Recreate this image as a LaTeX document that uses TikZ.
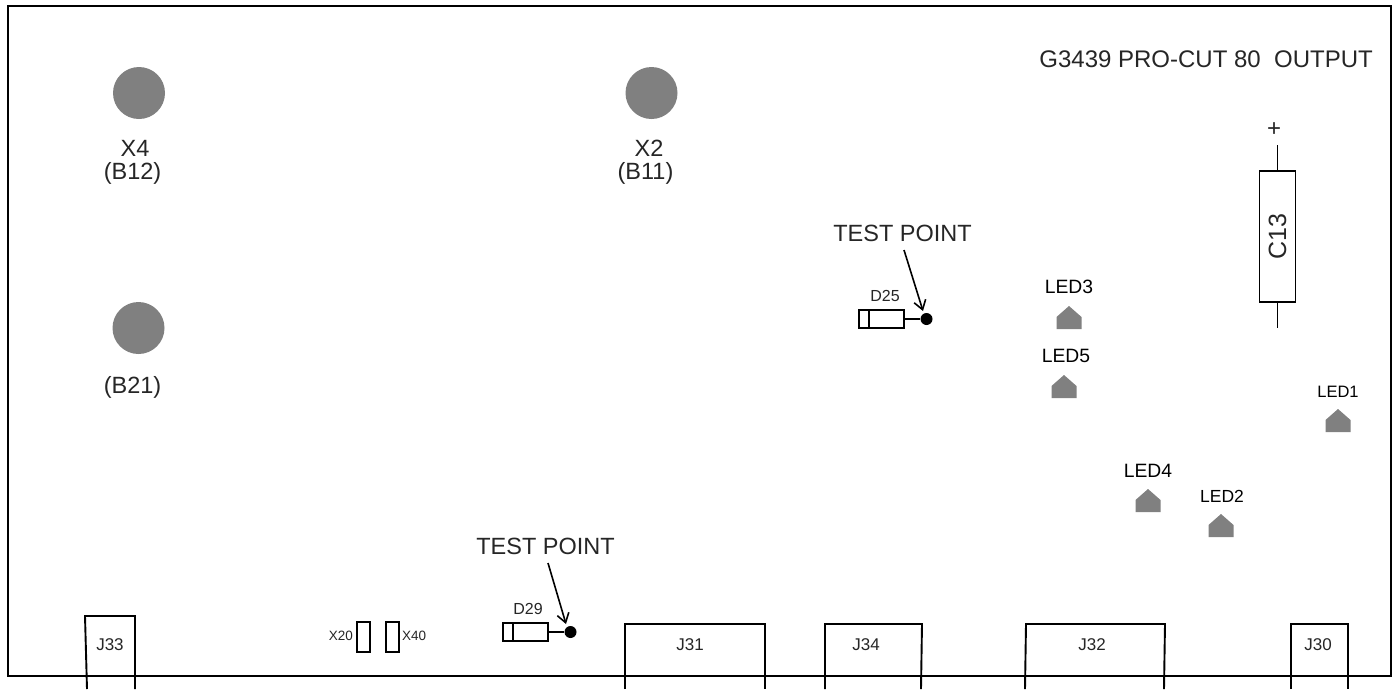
\documentclass[tikz,border=0pt]{standalone}
\usepackage{fontspec}
\setmainfont{Liberation Sans}
\usetikzlibrary{arrows.meta}
\newcommand{\txt}[1]{\fontsize{#1}{#1}\selectfont}
\tikzset{
  x=1pt,y=-1pt,
  line/.style={draw=black,line width=1.9pt},
  thin line/.style={draw=black,line width=1.6pt},
  lbl/.style={inner sep=0pt,text=black!85},
  big/.style={lbl,font=\txt{23.5}},
  small/.style={lbl,font=\txt{16}},
  ledlbl/.style={lbl,text=black,font=\txt{19.3}},
  tiny/.style={lbl,font=\txt{17}},
  tinier/.style={lbl,font=\txt{13.5}},
  hole/.style={circle,fill=black!50,draw=none,minimum size=52pt,inner sep=0pt},
  dot/.style={circle,fill=black,draw=none,minimum size=12pt,inner sep=0pt},
  led/.style={fill=black!50,draw=none},
  part/.style={draw=black,line width=1.7pt,inner sep=0pt},
  pin/.style={thin line,-{Straight Barb[length=9pt,width=12pt]}},
}
\newcommand{\ledshape}[2]{\fill[led] (#1-12.5,#2+23) -- (#1-12.5,#2+11) -- (#1,#2) -- (#1+12.5,#2+11) -- (#1+12.5,#2+23) -- cycle;}
\newcommand{\conn}[7]{% name, left bottom, left top, right top, right bottom, top, label centre
  \draw[line] (#2,689) -- (#3,#6) -- (#4,#6) -- (#5,689);
  \node[tiny] (#1) at (#7,645) {\MakeUppercase{#1}};}
\begin{document}
\begin{tikzpicture}
\useasboundingbox (0,0) rectangle (1395,689);
\fill[white] (0,0) rectangle (1395,689);
\draw[line,line width=2.1pt] (8,676) -- (8,6) -- (1391,6) -- (1391,676) -- cycle;
% title
\node[big,font=\txt{24},anchor=east] (title) at (1373,59.5) {G3439 PRO-CUT 80\ \ OUTPUT};
% holes
\node[hole] (h4) at (139,93) {};
\node[hole] (h2) at (651.5,93) {};
\node[hole] (h21) at (138.5,328) {};
\node[big] (x4) at (135,148) {X4};
\node[big] (b12) at (132.5,173) {(B12)};
\node[big] (x2) at (649,148) {X2};
\node[big] (b11) at (645.5,173) {(B11)};
\node[big] (b21) at (132.5,387) {(B21)};
% capacitor
\node[part,minimum width=36pt,minimum height=131pt] (c13) at (1277.5,236.5) {};
\node[big,font=\txt{25},rotate=90] (c13t) at (1277.5,236.5) {C13};
\node[big,font=\txt{24}] (plus) at (1274,130) {+};
\coordinate (c13a) at (1277.5,145);
\coordinate (c13b) at (1277.5,328);
\draw[thin line] (c13.north) -- (c13a);
\draw[thin line] (c13.south) -- (c13b);
% D25
\node[part,minimum width=45pt,minimum height=18pt] (d25) at (881.5,319) {};
\draw[thin line] (869,310) -- (869,328);
\node[dot] (tp1) at (926.5,319) {};
\draw[thin line] (d25.east) -- (tp1);
\node[small] (d25t) at (885,296) {D25};
\node[big] (tp1t) at (902.5,233) {TEST POINT};
\coordinate (tp1s) at (904,250);
\draw[pin] (tp1s) -- (923,311);
% D29
\node[part,minimum width=45pt,minimum height=18pt] (d29) at (525.5,632) {};
\draw[thin line] (513,623) -- (513,641);
\node[dot] (tp2) at (570.5,632) {};
\draw[thin line] (d29.east) -- (tp2);
\node[small] (d29t) at (528,609) {D29};
\node[big] (tp2t) at (545.5,546) {TEST POINT};
\coordinate (tp2s) at (548,563);
\draw[pin] (tp2s) -- (566,624);
% jumpers
\node[part,minimum width=13pt,minimum height=30pt] (x20b) at (363.5,637) {};
\node[part,minimum width=13pt,minimum height=30pt] (x40b) at (392.5,637) {};
\node[tinier,anchor=east] (x20) at (353,636) {X20};
\node[tinier,anchor=west] (x40) at (402,636) {X40};
% LEDs
\ledshape{1069}{306}
\node[ledlbl] (led3) at (1069,287) {LED3};
\ledshape{1064}{375}
\node[ledlbl] (led5) at (1066,356) {LED5};
\ledshape{1338}{409}
\node[ledlbl,font=\txt{16.5}] (led1) at (1338,392) {LED1};
\ledshape{1148}{489}
\node[ledlbl] (led4) at (1148,471) {LED4};
\ledshape{1221}{514}
\node[ledlbl,font=\txt{17.5}] (led2) at (1222,496) {LED2};
% connectors
\conn{j33}{87}{85}{135}{135}{616}{110}
\conn{j31}{625}{625}{765}{765}{624}{690}
\conn{j34}{825}{825}{922}{921}{624}{866}
\conn{j32}{1025}{1026}{1165}{1164}{624}{1092}
\conn{j30}{1291}{1291}{1348}{1348}{624}{1318}
\end{tikzpicture}
\end{document}
